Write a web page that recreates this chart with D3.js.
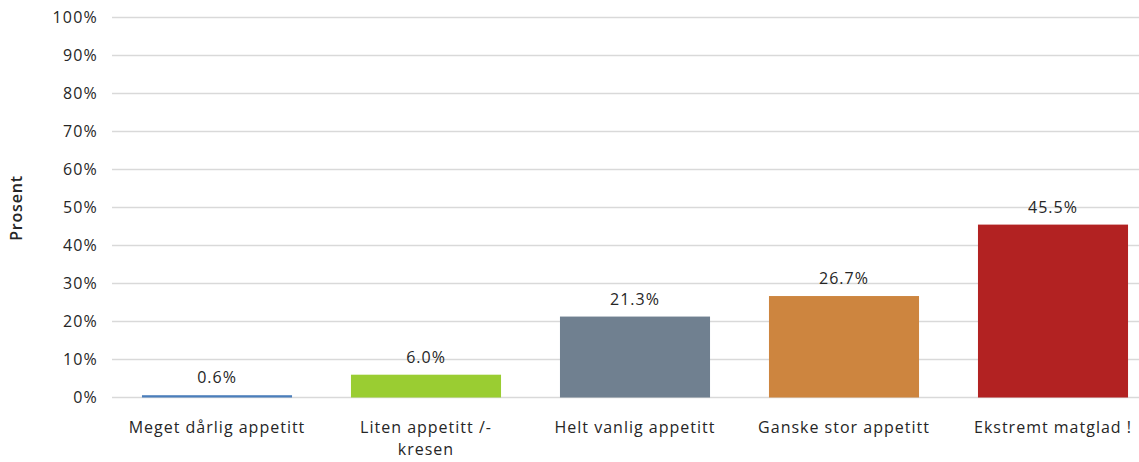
<!DOCTYPE html>
<html><head><meta charset="utf-8">
<script src="https://cdn.jsdelivr.net/npm/d3@7"></script>
<style>
body{margin:0;background:#fff;}
text{font-family:"Open Sans",sans-serif;fill:#262626;}
</style></head>
<body><svg id="c" width="1139" height="462"></svg>
<script>
const categories = ["Meget dårlig appetitt", "Liten appetitt /-\nkresen", "Helt vanlig appetitt", "Ganske stor appetitt", "Ekstremt matglad !"];
const values = [0.6, 6.0, 21.3, 26.7, 45.5];
const colors = ["#4a7ebb", "#9acd32", "#708090", "#cd853f", "#b22222"];
const yTicks = [0, 10, 20, 30, 40, 50, 60, 70, 80, 90, 100];
const yTitle = "Prosent";

const svg = d3.select("#c");
const x = d3.scaleBand().domain(categories).range([112.5, 1157.5]).paddingInner(0.282).paddingOuter(0.141);
const y = d3.scaleLinear().domain([0, 100]).range([397.5, 17.5]);

svg.append("g").selectAll("line").data(yTicks).join("line")
  .attr("x1", 112).attr("x2", 1139)
  .attr("y1", d => y(d)).attr("y2", d => y(d))
  .attr("stroke", "#d9d9d9").attr("stroke-width", 1.5);

svg.append("g").selectAll("text").data(yTicks).join("text")
  .attr("x", 98).attr("y", d => y(d)).attr("dy", "0.36em")
  .attr("text-anchor", "end").style("font-size", "16px").style("letter-spacing", "1.2px")
  .text(d => d + "%");

svg.append("g").selectAll("rect").data(values).join("rect")
  .attr("x", (d, i) => x(categories[i])).attr("width", x.bandwidth())
  .attr("y", d => y(d)).attr("height", d => y(0) - y(d))
  .attr("fill", (d, i) => colors[i]);

svg.append("g").selectAll("text").data(values).join("text")
  .attr("x", (d, i) => x(categories[i]) + x.bandwidth() / 2)
  .attr("y", d => y(d) - 12)
  .attr("text-anchor", "middle").style("font-size", "16px").style("letter-spacing", "1px")
  .text(d => d.toFixed(1) + "%");

const xl = svg.append("g").selectAll("text").data(categories).join("text")
  .attr("x", d => x(d) + x.bandwidth() / 2)
  .attr("y", 433)
  .attr("text-anchor", "middle").style("font-size", "16px").style("letter-spacing", "1px");
xl.each(function(d) {
  const t = d3.select(this);
  d.split("\n").forEach((line, k) => {
    t.append("tspan").attr("x", x(d) + x.bandwidth() / 2).attr("dy", k === 0 ? 0 : 22).text(line);
  });
});

svg.append("text").attr("transform", "translate(22,208) rotate(-90)")
  .attr("text-anchor", "middle").style("font-size", "16px").style("font-weight", "600").style("letter-spacing", "0.8px")
  .text(yTitle);
</script></body></html>
